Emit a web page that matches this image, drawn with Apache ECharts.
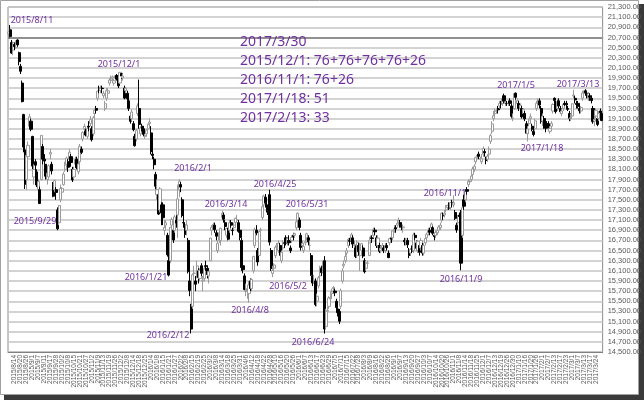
<!DOCTYPE html>
<html>
<head>
<meta charset="utf-8">
<script src="https://cdn.jsdelivr.net/npm/echarts@6/dist/echarts.min.js"></script>
<style>
html,body{margin:0;padding:0;background:#fff;}
#c{width:644px;height:400px;}
</style>
</head>
<body>
<div id="c"></div>
<script>
// Months and their trading days (categories)
const months = ['2015/8','2015/9','2015/10','2015/11','2015/12',
  '2016/1','2016/2','2016/3','2016/4','2016/5','2016/6','2016/7','2016/8','2016/9','2016/10','2016/11','2016/12',
  '2017/1','2017/2','2017/3'];
const monthDays = [
  [10,11,12,13,14,17,18,19,20,21,24,25,26,27,28,31],
  [1,2,3,4,7,8,9,10,11,14,15,16,17,18,24,25,28,29,30],
  [1,2,5,6,7,8,9,13,14,15,16,19,20,21,22,23,26,27,28,29,30],
  [2,4,5,6,9,10,11,12,13,16,17,18,19,20,24,25,26,27,30],
  [1,2,3,4,7,8,9,10,11,14,15,16,17,18,21,22,24,25,28,29,30],
  [4,5,6,7,8,12,13,14,15,18,19,20,21,22,25,26,27,28,29],
  [1,2,3,4,5,8,9,10,12,15,16,17,18,19,22,23,24,25,26,29],
  [1,2,3,4,7,8,9,10,11,14,15,16,17,18,22,23,24,25,28,29,30,31],
  [1,4,5,6,7,8,11,12,13,14,15,18,19,20,21,22,25,26,27,28],
  [2,6,9,10,11,12,13,16,17,18,19,20,23,24,25,26,27,30,31],
  [1,2,3,6,7,8,9,10,13,14,15,16,17,20,21,22,23,24,27,28,29,30],
  [1,4,5,6,7,8,11,12,13,14,15,19,20,21,22,25,26,27,28,29],
  [1,2,3,4,5,8,9,10,12,15,16,17,18,19,22,23,24,25,26,29,30,31],
  [1,2,5,6,7,8,9,12,13,14,15,16,20,21,23,26,27,28,29,30],
  [3,4,5,6,7,11,12,13,14,17,18,19,20,21,24,25,26,27,28,31],
  [1,2,4,7,8,9,10,11,14,15,16,17,18,21,22,24,25,28,29,30],
  [1,2,5,6,7,8,9,12,13,14,15,16,19,20,21,22,26,27,28,29,30],
  [4,5,6,10,11,12,13,16,17,18,19,20,23,24,25,26,27,30,31],
  [1,2,3,6,7,8,9,10,13,14,15,16,17,20,21,22,23,24,27,28],
  [1,2,3,6,7,8,9,10,13,14,15,16,17,21,22,23,24,27,28,29,30]
];
const dates = months.flatMap((m, i) => monthDays[i].map(d => m + '/' + d));

// Daily prices: [open, close, low, high]
const prices = [
  // 2015/8
  [20770,20808,20700,20810],[20850,20720,20680,20946],[20600,20392,20380,20650],[20450,20595,20350,20620],
  [20560,20519,20450,20600],[20500,20620,20480,20640],[20650,20554,20520,20663],[20400,20222,20150,20420],
  [20130,20033,19980,20180],[19800,19435,19420,19850],[19180,18540,18436,19195],[18480,17806,17714,18680],
  [17900,18376,17700,18400],[18350,18574,18200,18650],[18950,19136,18900,19192],[19050,18890,18850,19100],
  // 2015/9
  [18750,18165,18100,18760],[17950,18095,17800,18200],[18250,18182,18050,18300],[18050,17792,17750,18100],
  [17700,17860,17680,17900],[17700,17427,17415,17760],[17900,18770,17880,18770],[18550,18299,18200,18600],
  [18300,18264,18200,18400],[18200,17965,17900,18200],[17900,18026,17800,18100],[17950,18171,17900,18200],
  [18400,18432,18300,18500],[18200,18070,18000,18250],[17800,17571,17550,17850],[17700,17880,17650,17900],
  [17700,17645,17500,17750],[17300,16930,16901,17350],[17050,17388,17000,17400],
  // 2015/10
  [17500,17722,17450,17800],[17650,17725,17550,17750],[17800,18005,17780,18050],[18100,18186,18050,18250],
  [18200,18322,18100,18350],[18250,18141,18050,18300],[18300,18438,18250,18500],[18350,18234,18150,18400],
  [18100,17891,17850,18150],[17950,18096,17900,18150],[18200,18291,18150,18350],[18300,18131,18100,18350],
  [18050,18207,18000,18250],[18250,18554,18200,18600],[18500,18435,18400,18550],[18700,18825,18650,18850],
  [18900,18947,18850,19000],[18850,18777,18750,18900],[18750,18903,18700,18950],[18950,18935,18850,19050],
  [19000,19083,18950,19150],
  // 2015/11
  [18900,18684,18650,18950],[18800,19116,18750,19150],[19200,19265,19100,19300],[19300,19265,19200,19350],
  [19500,19642,19450,19650],[19700,19671,19600,19750],[19650,19697,19600,19750],[19700,19691,19600,19750],
  [19550,19596,19500,19650],[19300,19394,19250,19450],[19500,19649,19450,19700],[19600,19649,19550,19700],
  [19800,19860,19750,19900],[19850,19879,19800,19950],[19900,19924,19850,19950],[19800,19847,19750,19880],
  [19900,19944,19850,19960],[19950,19883,19850,19980],[19900,19747,19700,19950],
  // 2015/12
  [19800,20012,19780,20012],[19990,19939,19880,20000],[19900,19939,19850,19990],[19700,19504,19480,19750],
  [19650,19698,19600,19720],[19600,19492,19450,19650],[19450,19301,19250,19500],[19150,19046,19000,19200],
  [19100,19230,19050,19280],[19000,18883,18850,19050],[18750,18565,18550,18800],[18700,18870,18650,18900],
  [19200,19353,19150,19400],[19300,18986,18900,19869],[18800,18916,18750,18950],[18950,18886,18850,19000],
  [18900,18789,18750,18950],[18750,18769,18700,18800],[18800,18873,18750,18900],[18900,18982,18850,19000],
  [19000,19033,18950,19100],
  // 2016/1
  [18818,18450,18394,18951],[18400,18374,18300,18500],[18300,18191,18100,18350],[18000,17767,17700,18050],
  [17600,17698,17500,17900],[17600,17219,17200,17650],[17300,17715,17250,17750],[17400,17241,17000,17450],
  [17400,17147,17000,17450],[16900,16956,16800,17100],[17000,17048,16900,17100],[16800,16416,16380,16850],
  [16300,16017,15990,16600],[16300,16959,16250,16960],[17000,17111,16950,17150],[16900,16708,16650,16950],
  [16900,17163,16850,17200],[17100,17041,16950,17200],[17200,17518,16750,17800],
  // 2016/2
  [17700,17865,17550,17905],[17800,17750,17650,17850],[17500,17191,17150,17550],[17050,17044,16950,17200],
  [17000,16819,16750,17050],[16900,17004,16800,17100],[16700,16085,16050,16750],[15900,15713,15600,16100],
  [15400,14952,14865,15450],[15400,16022,15350,16050],[16050,16054,15900,16200],[15900,15836,15700,16000],
  [16000,16196,15950,16300],[16100,15967,15850,16150],[15950,16111,15900,16150],[16200,16052,16000,16250],
  [15900,15916,15700,16000],[15950,16140,15900,16200],[16200,16189,16100,16300],[16150,16027,15950,16200],
  // 2016/3
  [16000,16085,15850,16100],[16300,16746,16300,16750],[16900,16960,16800,17000],[16950,17014,16900,17050],
  [17000,16911,16850,17050],[16850,16783,16700,16900],[16500,16642,16450,16700],[16700,16852,16650,16900],
  [16700,16938,16600,16950],[17150,17233,17100,17290],[17200,17117,17050,17250],[17050,16974,16900,17100],
  [16800,16936,16750,16950],[16900,16724,16700,16950],[16900,17048,16850,17100],[17050,17000,16950,17100],
  [16900,16892,16800,16950],[16950,17002,16900,17050],[17050,17134,17000,17150],[17100,17103,17050,17200],
  [17050,16879,16850,17100],[16900,16758,16700,16950],
  // 2016/4
  [16700,16164,16100,16750],[16200,16123,16050,16250],[16000,15732,15700,16050],[15700,15715,15600,15850],
  [15700,15749,15550,15800],[15650,15821,15471,15900],[15900,15751,15700,15950],[15750,15928,15700,15950],
  [16100,16381,16050,16400],[16600,16911,16550,16950],[16900,16848,16800,17000],[16500,16276,16200,16550],
  [16400,16875,16400,16900],[16900,16907,16750,16950],[17150,17364,17100,17400],[17400,17572,17300,17600],
  [17550,17440,17400,17613],[17400,17353,17250,17450],[17350,17290,17200,17400],[17600,16666,16600,17700],
  // 2016/5
  [16500,16147,16100,16550],[16050,16106,15975,16200],[16150,16216,16050,16250],[16400,16565,16350,16600],
  [16550,16579,16500,16650],[16500,16646,16450,16700],[16600,16412,16400,16650],[16300,16466,16250,16500],
  [16550,16652,16500,16700],[16650,16644,16550,16700],[16750,16646,16600,16800],[16650,16736,16600,16750],
  [16700,16654,16600,16800],[16550,16498,16450,16600],[16700,16757,16650,16800],[16800,16772,16700,16850],
  [16800,16834,16750,16850],[16950,17068,16900,17100],[17100,17234,17050,17251],
  // 2016/6
  [17100,16955,16900,17150],[16800,16562,16500,16850],[16600,16642,16550,16700],[16500,16580,16450,16650],
  [16650,16675,16600,16750],[16750,16830,16700,16850],[16750,16668,16600,16800],[16600,16601,16500,16700],
  [16400,16019,16000,16450],[16000,15859,15800,16050],[15900,15919,15850,16000],[15900,15434,15400,15950],
  [15500,15599,15400,15650],[15800,15965,15750,16000],[16000,16169,15950,16200],[16150,16065,16000,16200],
  [16100,16238,16050,16300],[16300,14952,14864,16389],[15000,15309,14950,15350],[15300,15323,15200,15400],
  [15400,15566,15350,15600],[15550,15575,15500,15700],
  // 2016/7
  [15650,15682,15550,15750],[15750,15775,15650,15800],[15700,15669,15600,15750],[15500,15378,15300,15550],
  [15350,15276,15200,15400],[15300,15106,15050,15350],[15400,15708,15350,15750],[15900,16095,15850,16150],
  [16200,16231,16150,16300],[16300,16385,16250,16450],[16450,16497,16400,16550],[16600,16723,16550,16750],
  [16700,16681,16600,16750],[16700,16810,16650,16850],[16750,16627,16550,16800],[16600,16620,16550,16700],
  [16550,16383,16350,16600],[16400,16664,16350,16700],[16600,16476,16400,16650],[16400,16569,16100,16650],
  // 2016/8
  [16500,16635,16450,16650],[16550,16391,16350,16600],[16300,16083,16050,16350],[16150,16254,16100,16300],
  [16250,16254,16150,16300],[16400,16650,16400,16700],[16700,16764,16650,16800],[16750,16735,16650,16800],
  [16800,16919,16750,16950],[16900,16869,16800,16950],[16750,16596,16550,16800],[16600,16745,16550,16800],
  [16600,16486,16450,16650],[16500,16545,16450,16600],[16550,16598,16500,16650],[16550,16497,16450,16600],
  [16500,16597,16450,16650],[16600,16555,16500,16650],[16450,16360,16350,16500],[16650,16737,16600,16750],
  [16750,16725,16650,16800],[16750,16887,16700,16900],
  // 2016/9
  [16900,16926,16850,17000],[16950,16925,16850,17000],[17000,17037,16950,17100],[17050,17081,17000,17150],
  [17050,17012,16950,17100],[17000,16958,16900,17050],[16950,16965,16850,17000],[16700,16672,16600,16750],
  [16650,16729,16600,16750],[16700,16614,16550,16750],[16500,16405,16350,16550],[16450,16519,16400,16550],
  [16550,16492,16450,16600],[16500,16807,16450,16850],[16800,16754,16700,16850],[16650,16544,16500,16700],
  [16500,16683,16450,16700],[16600,16465,16400,16650],[16550,16693,16500,16750],[16600,16449,16400,16650],
  // 2016/10
  [16450,16598,16400,16650],[16650,16735,16600,16750],[16750,16819,16700,16850],[16850,16899,16800,16950],
  [16900,16860,16800,16950],[16950,17024,16900,17050],[16950,16840,16800,16980],[16800,16774,16700,16850],
  [16800,16856,16750,16900],[16850,16900,16800,16950],[16900,16963,16850,17000],[16950,16998,16900,17050],
  [17100,17235,17050,17250],[17200,17184,17100,17250],[17200,17234,17150,17300],[17300,17365,17250,17400],
  [17350,17391,17300,17400],[17400,17336,17300,17450],[17350,17446,17300,17450],[17450,17425,17350,17500],
  // 2016/11
  [17400,17442,17350,17591],[17250,17134,17100,17300],[17000,16905,16850,17050],[17050,17177,17000,17200],
  [17200,17171,17100,17250],[17200,16251,16111,17300],[16800,17344,16750,17400],[17500,17374,17300,17600],
  [17500,17672,17450,17700],[17700,17668,17600,17750],[17800,17862,17750,17900],[17850,17862,17800,17900],
  [17900,17967,17850,18000],[18000,18106,17950,18150],[18100,18162,18050,18200],[18250,18333,18200,18350],
  [18350,18381,18300,18400],[18400,18356,18300,18450],[18300,18307,18250,18350],[18250,18308,18200,18400],
  // 2016/12
  [18400,18513,18350,18550],[18450,18426,18350,18500],[18300,18274,18200,18350],[18300,18360,18250,18400],
  [18400,18496,18350,18550],[18650,18765,18600,18800],[18850,18996,18800,19050],[19100,19155,19050,19250],
  [19200,19250,19150,19300],[19250,19253,19200,19300],[19300,19273,19200,19350],[19350,19401,19300,19450],
  [19400,19391,19300,19450],[19400,19494,19350,19550],[19550,19444,19400,19592],[19400,19427,19350,19450],
  [19400,19396,19350,19450],[19400,19403,19350,19450],[19450,19401,19350,19500],[19350,19145,19100,19400],
  [19100,19114,19050,19200],
  // 2017/1
  [19298,19594,19277,19594],[19602,19520,19473,19615],[19400,19454,19350,19500],[19400,19301,19250,19450],
  [19300,19364,19250,19400],[19300,19134,19100,19350],[19200,19287,19150,19300],[19200,19095,19050,19250],
  [19000,18813,18800,19050],[18800,18894,18650,18950],[19000,19072,18950,19100],[19100,19137,19050,19200],
  [18950,18891,18850,19000],[18850,18787,18750,18900],[18900,19057,18850,19100],[19300,19402,19250,19450],
  [19400,19467,19350,19500],[19450,19368,19300,19500],[19300,19041,19000,19350],
  // 2017/2
  [19050,19148,18950,19200],[19100,18914,18900,19150],[18950,18918,18830,19000],[19000,18976,18900,19050],
  [19000,18910,18880,19050],[18850,18907,18800,18950],[18950,19007,18900,19050],[19250,19378,19200,19400],
  [19500,19459,19400,19520],[19400,19238,19200,19450],[19300,19437,19250,19480],[19450,19347,19300,19500],
  [19300,19234,19200,19350],[19200,19251,19150,19300],[19300,19381,19250,19400],[19400,19379,19350,19450],
  [19400,19371,19300,19450],[19300,19283,19250,19350],[19200,19107,19050,19250],[19100,19118,19050,19200],
  // 2017/3
  [19150,19393,19100,19400],[19550,19564,19500,19668],[19500,19469,19400,19550],[19400,19379,19300,19450],
  [19400,19344,19300,19450],[19300,19254,19200,19350],[19250,19318,19200,19350],[19500,19604,19450,19650],
  [19600,19633,19550,19656],[19650,19609,19550,19680],[19600,19577,19500,19620],[19500,19590,19450,19620],
  [19550,19521,19450,19600],[19500,19455,19400,19550],[19300,19041,19000,19350],[19050,19085,18950,19150],
  [19150,19262,19100,19300],[19100,18985,18950,19150],[19100,19202,19050,19250],[19250,19217,19150,19300],
  [19200,19063,19050,19250]
];

// Y axis range / ticks
const yMin = 14500, yMax = 21300, yStep = 200;
const refLine = 20700;

// Annotation texts
const pointNotes = ['2015/8/11','2015/12/1','2015/9/29','2016/1/21','2016/2/1','2016/2/12','2016/3/14','2016/4/8',
  '2016/4/25','2016/5/2','2016/5/31','2016/6/24','2016/11/1','2016/11/9','2017/1/5','2017/3/13','2017/1/18'];
const summaryLines = ['2017/3/30','2015/12/1: 76+76+76+76+26','2016/11/1: 76+26','2017/1/18: 51','2017/2/13: 33'];

// Layout of annotation labels (pixel centres)
const notePos = [[32,20],[119,64],[35,221],[146,277],[193,168],[168,335],[226,204],[250,310],
  [275,184],[288,286],[307,204],[313,342],[445,193],[461,279],[516,85],[578,84],[542,148]];
const purple = '#7030a0';

const graphics = [
  {type:'rect', z:-20, shape:{x:4,y:4,width:640,height:396}, style:{fill:'#3a3a3a'}},
  {type:'rect', z:-19, shape:{x:0.5,y:0.5,width:638,height:394}, style:{fill:'#ffffff', stroke:'#a0a0a0', lineWidth:1}}
];
pointNotes.forEach((t, i) => {
  graphics.push({type:'text', z:100, x:notePos[i][0], y:notePos[i][1],
    style:{text:t, fill:purple, font:'9px "Noto Sans"', textAlign:'center', textVerticalAlign:'middle'}});
});
summaryLines.forEach((t, i) => {
  graphics.push({type:'text', z:100, x:240, y:42 + i*19,
    style:{text:t, fill:purple, font:'14px "Noto Sans"', textAlign:'left', textVerticalAlign:'middle'}});
});

const chart = echarts.init(document.getElementById('c'));
chart.setOption({
  animation: false,
  backgroundColor: '#ffffff',
  textStyle: {fontFamily: 'Liberation Sans'},
  grid: {left: 8, right: 35, top: 7, bottom: 48, show: true, borderColor: '#8c8c8c', borderWidth: 1},
  xAxis: {
    type: 'category', data: dates, boundaryGap: true,
    axisLine: {lineStyle: {color: '#808080', width: 1}},
    axisTick: {interval: 3, length: 3, alignWithLabel: true, lineStyle: {color: '#808080'}},
    axisLabel: {interval: 3, rotate: 90, fontSize: 6.5, color: '#595959', margin: 3, fontFamily: 'Liberation Sans'},
    splitLine: {show: false}
  },
  yAxis: {
    type: 'value', position: 'right', min: yMin, max: yMax, interval: yStep, scale: true,
    axisLine: {show: false}, axisTick: {show: false},
    axisLabel: {fontSize: 7.5, color: '#595959', margin: 5, fontFamily: 'Liberation Sans',
      formatter: v => v.toLocaleString('en-US', {minimumFractionDigits: 2, maximumFractionDigits: 2})},
    splitLine: {lineStyle: {color: '#c4c4c4', width: 1.5}}
  },
  series: [{
    type: 'candlestick', data: prices, barWidth: 2.6,
    itemStyle: {color: '#ffffff', color0: '#000000', borderColor: '#9a9a9a', borderColor0: '#000000', borderWidth: 1},
    markLine: {silent: true, symbol: 'none', label: {show: false},
      lineStyle: {color: '#7a7a7a', width: 1.5, type: 'solid'}, data: [{yAxis: refLine}]}
  }],
  graphic: graphics
});
</script>
</body>
</html>
